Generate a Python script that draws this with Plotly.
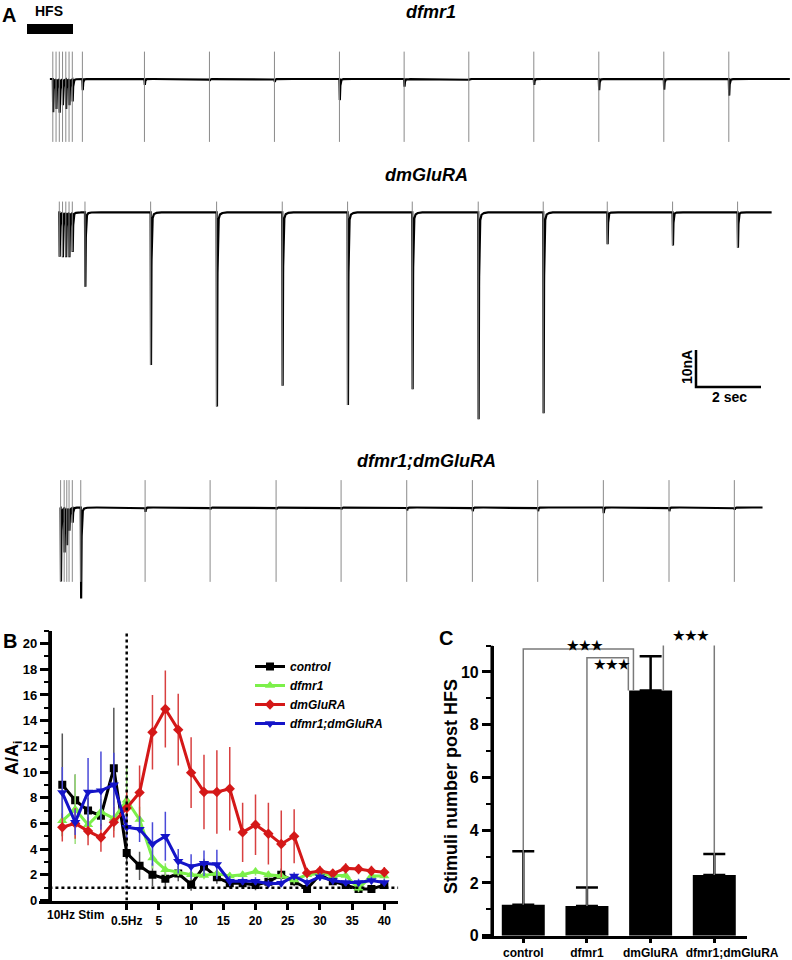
import numpy as np
import plotly.graph_objects as go

W, H = 792, 960
FONT = "Arial, 'Liberation Sans', sans-serif"

# ------------------------------------------------------------------ data
# Panel A : stimulus times (s, relative to last HFS pulse) and EJC amplitudes (nA)
dfmr1_hfs_t = [-0.6, -0.5, -0.4, -0.3, -0.2, -0.1, 0.0]
dfmr1_hfs_amp = [-9, -8, -9, -7, -8, -7, -6]
dfmr1_post_t = [0.31, 2.22, 4.22, 6.22, 8.22, 10.21, 12.2, 14.2, 16.2, 18.2, 20.2]
dfmr1_post_amp = [-3.0, -1.6, -0.5, -0.8, -5.7, -2.1, -0.3, -1.6, -3.0, -2.9, -4.5]
dfmr1_span = [-0.69, 22.08]
dfmr1_artifact = [7.4, -17.0]

dmglura_hfs_t = [-0.4, -0.3, -0.2, -0.1, 0.0]
dmglura_hfs_amp = [-12, -12, -12, -12, -10.6]
dmglura_post_t = [0.39, 2.41, 4.44, 6.46, 8.47, 10.46, 12.49, 14.49, 16.46, 18.47, 20.47]
dmglura_post_amp = [-20.1, -41.3, -52.5, -46.9, -52.1, -47.8, -55.9, -54.3, -8.6, -9.0, -9.6]
dmglura_span = [-0.43, 21.52]
dmglura_artifact_top = 2.9

double_hfs_t = [-0.36, -0.25, -0.17, -0.10, 0.0]
double_hfs_amp = [-20, -12, -10, -6, -4]
double_post_t = [0.26, 2.24, 4.24, 6.27, 8.27, 10.29, 12.31, 14.32, 16.34, 18.36, 20.37]
double_post_amp = [-24.6, -1.2, -0.5, -0.5, -0.5, -0.8, -1.0, -1.0, -1.5, -1.0, -0.6]
double_span = [-0.38, 21.24]
double_artifact = [7.4, -20.1]

scale_bar_t = 2.0    # sec
scale_bar_i = 10.0   # nA

# Panel B
b_x = [-10, -8, -6, -4, -2, 0, 2, 4, 6, 8, 10, 12, 14, 16, 18, 20, 22, 24, 26, 28, 30, 32, 34, 36, 38, 40]
b_tickvals = [0, 5, 10, 15, 20, 25, 30, 35, 40]
b_ticktext = ["0.5Hz", "5", "10", "15", "20", "25", "30", "35", "40"]
control_y = [9.0, 7.8, 7.0, 6.6, 10.3, 3.7, 2.7, 2.0, 1.7, 2.1, 1.25, 2.65, 1.8, 1.35, 1.35, 1.2, 1.45, 2.0, 1.5, 0.9, 2.0, 1.5, 1.2, 0.9, 0.9, 1.2]
control_err = [4.0, 2.0, 1.0, 0.8, 4.7, 1.0, 1.1, 0.9, 0.7, 0.6, 0.5, 0.6, 0.5, 0.4, 0.4, 0.4, 0.4, 0.5, 0.4, 0.3, 0.4, 0.3, 0.3, 0.3, 0.3, 0.3]
dfmr1_y = [6.2, 7.1, 5.9, 6.9, 6.4, 7.8, 6.3, 3.3, 2.4, 2.2, 2.0, 1.95, 2.1, 1.9, 2.0, 2.25, 2.0, 1.9, 1.6, 2.0, 2.1, 1.95, 1.95, 0.95, 1.9, 1.9]
dfmr1_err = [1.2, 2.7, 1.0, 1.0, 1.0, 2.7, 1.0, 0.8, 0.5, 0.3, 0.3, 0.3, 0.3, 0.3, 0.3, 0.3, 0.3, 0.3, 0.3, 0.3, 0.3, 0.3, 0.3, 0.3, 0.3, 0.3]
dmglura_y = [5.7, 6.0, 5.4, 4.9, 6.1, 7.2, 8.4, 13.1, 14.9, 13.3, 9.95, 8.45, 8.45, 8.7, 5.3, 5.9, 5.2, 4.4, 5.0, 2.15, 2.3, 2.1, 2.5, 2.45, 2.3, 2.2]
dmglura_err = [1.1, 1.2, 1.1, 1.1, 1.2, 1.3, 2.1, 2.9, 3.0, 2.8, 2.75, 2.9, 3.25, 3.25, 2.3, 2.35, 2.4, 2.6, 2.1, 0.4, 0.4, 0.3, 0.4, 0.4, 0.4, 0.4]
double_y = [8.4, 6.1, 8.45, 8.55, 9.0, 5.7, 5.55, 4.4, 5.0, 3.05, 2.65, 2.9, 2.8, 1.5, 1.5, 1.5, 1.3, 1.35, 1.9, 1.4, 1.85, 1.55, 1.4, 1.4, 1.55, 1.4]
double_err = [2.0, 1.0, 2.65, 3.05, 2.5, 1.0, 1.0, 1.7, 1.9, 0.95, 0.95, 1.0, 1.15, 0.4, 0.3, 0.3, 0.3, 0.3, 0.3, 0.3, 0.3, 0.3, 0.3, 0.3, 0.3, 0.3]
b_switch_x = 0       # 10Hz -> 0.5Hz
b_ref_y = 1          # A/Ai = 1

# Panel C
c_categories = ["control", "dfmr1", "dmGluRA", "dfmr1;dmGluRA"]
c_values = [1.17, 1.13, 9.3, 2.3]
c_err = [2.03, 0.70, 1.3, 0.8]
# significance brackets: (left cat, left offset, right cat, right offset, top)
c_brackets = [(0, 0.0, 2, -0.27, 10.87), (1, 0.0, 2, -0.35, 10.54), (2, 0.2, 3, 0.0, 11.2)]

# ------------------------------------------------------------------ helpers
def pxx(p):
    return p / W


def pxy(p):
    return 1 - p / H


T0_PX, PX_PER_S, PX_PER_NA = 72.3, 32.5, 3.7
A_XRANGE = [(0 - T0_PX) / PX_PER_S, (W - T0_PX) / PX_PER_S]


def band(top, bot, base):
    return dict(domain=[pxy(bot), pxy(top)],
                range=[(base - bot) / PX_PER_NA, (base - top) / PX_PER_NA])


def kernel(dt):
    k = np.zeros_like(dt)
    rise = (dt >= 0) & (dt < 0.012)
    k[rise] = dt[rise] / 0.012
    dec = dt >= 0.012
    d = dt[dec] - 0.012
    k[dec] = 0.96 * np.exp(-d / 0.013) + 0.04 * np.exp(-d / 0.07)
    return k


def build_trace(times, amps, span):
    t = np.arange(span[0], span[1], 0.002)
    y = np.zeros_like(t)
    for ts, a in zip(times, amps):
        y += a * kernel(t - ts)
    return t, y


def artifact_xy(times, tops, bots):
    xs, ys = [], []
    for ts, a, b in zip(times, tops, bots):
        xs += [ts, ts, None]
        ys += [a, b, None]
    return xs, ys


fig = go.Figure()

ARTC = "#8a8a8a"
# ---------------- Panel A traces
panelA = [
    ("y", dfmr1_hfs_t + dfmr1_post_t, dfmr1_hfs_amp + dfmr1_post_amp, dfmr1_span,
     [dfmr1_artifact[0]] * 18, [dfmr1_artifact[1]] * 18),
    ("y2", dmglura_hfs_t + dmglura_post_t, dmglura_hfs_amp + dmglura_post_amp, dmglura_span,
     [dmglura_artifact_top] * 16, dmglura_hfs_amp + dmglura_post_amp),
    ("y3", double_hfs_t + double_post_t, double_hfs_amp + double_post_amp, double_span,
     [double_artifact[0]] * 16, [double_artifact[1]] * 16),
]
for yref, ts, amps, span, tops, bots in panelA:
    tx, ty = build_trace(ts, amps, span)
    fig.add_trace(go.Scatter(x=tx, y=ty, xaxis="x", yaxis=yref, mode="lines",
                             line=dict(color="black", width=2.2), showlegend=False, hoverinfo="skip"))
    ax, ay = artifact_xy(ts, tops, bots)
    fig.add_trace(go.Scatter(x=ax, y=ay, xaxis="x", yaxis=yref, mode="lines",
                             line=dict(color=ARTC, width=1), showlegend=False, hoverinfo="skip"))

# ---------------- Panel B
series = [
    ("control", control_y, control_err, "black", "#555555", "square", 8),
    ("dfmr1", dfmr1_y, dfmr1_err, "#7cf04a", "#9be07a", "triangle-up", 9),
    ("dmGluRA", dmglura_y, dmglura_err, "#d41818", "#d84040", "diamond", 8),
    ("dfmr1;dmGluRA", double_y, double_err, "#1414c8", "#4a4ad8", "triangle-down", 9),
]
for name, ys, es, col, ecol, sym, ms in series:
    fig.add_trace(go.Scatter(
        x=b_x, y=ys, xaxis="x2", yaxis="y4", mode="lines+markers",
        name="<b><i>%s</i></b>" % name,
        line=dict(color=col, width=3),
        marker=dict(symbol=sym, size=ms, color=col),
        error_y=dict(type="data", array=es, visible=True, color=ecol, thickness=1.5, width=0),
    ))

# ---------------- Panel C
c_x = list(range(len(c_categories)))
c_label_pos = [c_x[0], c_x[1], c_x[2], c_x[3] + 0.28]
fig.add_trace(go.Bar(
    x=c_x, y=c_values, xaxis="x3", yaxis="y5", width=0.675,
    marker=dict(color="black", line=dict(width=0)), showlegend=False,
    error_y=dict(type="data", symmetric=False, array=c_err, arrayminus=[0] * len(c_err),
                 color="black", thickness=2.5, width=11),
))

B_XLEFT, B_XRIGHT, B_YAX = -13.57, 42.17, -12.0
B_YTOP, C_YTOP = 21, 11
C_YAX_PX = 491.7
C_XLEFT, C_XRIGHT = -0.653, 3.509
C_YAX = C_XLEFT + (C_YAX_PX - 481.7) / (746.7 - 481.7) * (C_XRIGHT - C_XLEFT)

shapes = []
# brackets
for lc, lo, rc, ro, top in c_brackets:
    x0, x1 = c_x[lc] + lo, c_x[rc] + ro
    shapes.append(dict(type="path", xref="x3", yref="y5",
                       path="M %f,%f L %f,%f L %f,%f L %f,%f" % (
                           x0, c_values[lc], x0, top, x1, top, x1, c_values[rc]),
                       line=dict(color="#7a7a7a", width=1.5), layer="above"))

# y-axis spines (explicit)
shapes.append(dict(type="line", xref="x2", yref="y4", x0=B_YAX, x1=B_YAX, y0=0, y1=B_YTOP,
                   line=dict(color="black", width=2.5)))
shapes.append(dict(type="line", xref="x3", yref="y5", x0=C_YAX, x1=C_YAX, y0=0, y1=C_YTOP,
                   line=dict(color="black", width=2.5)))

# dotted reference lines panel B
shapes.append(dict(type="line", xref="x2", yref="y4", x0=b_switch_x, x1=b_switch_x, y0=0, y1=B_YTOP,
                   line=dict(color="black", width=2.5, dash="dot")))
shapes.append(dict(type="line", xref="x2", yref="y4", x0=B_YAX, x1=B_XRIGHT, y0=b_ref_y, y1=b_ref_y,
                   line=dict(color="black", width=2.5, dash="dot")))

# HFS bar
shapes.append(dict(type="rect", xref="paper", yref="paper", x0=pxx(27), x1=pxx(73),
                   y0=pxy(34), y1=pxy(24), fillcolor="black", line=dict(width=0)))

# scale bar in trace-2 units
sb_t0 = (696 - T0_PX) / PX_PER_S
sb_i0 = (212.3 - 387) / PX_PER_NA
shapes.append(dict(type="path", xref="x", yref="y2",
                   path="M %f,%f L %f,%f L %f,%f" % (sb_t0, sb_i0 + scale_bar_i, sb_t0, sb_i0,
                                                     sb_t0 + scale_bar_t, sb_i0),
                   line=dict(color="black", width=2.5)))

annotations = []


def ann(text, x, y, size, italic=False, angle=0, color="black"):
    annotations.append(dict(text=text, x=pxx(x), y=pxy(y), xref="paper", yref="paper",
                            showarrow=False, xanchor="center", yanchor="middle", textangle=angle,
                            font=dict(family=FONT, size=size, color=color, weight="bold",
                                      style="italic" if italic else "normal")))


ann("A", 9, 15, 20)
ann("HFS", 49, 11, 14)
ann("dfmr1", 431, 12, 18, italic=True)
ann("dmGluRA", 426, 175, 18, italic=True)
ann("dfmr1;dmGluRA", 426, 461, 18, italic=True)
ann("10nA", 687, 367, 14, angle=-90)
ann("2 sec", 729, 397, 14)
ann("B", 10, 641, 20)
ann("C", 446, 638, 20)
ann("A/A<sub>i</sub>", 13, 758, 18, angle=-90)
ann("10Hz Stim", 75, 915, 12)
ann("Stimuli number post HFS", 451, 787, 18, angle=-90)
# stars
for (px_, py_) in [(585, 645), (612, 664), (691, 635)]:
    ann("★★★", px_, py_, 13)

axis_common = dict(showgrid=False, zeroline=False, showline=True, linecolor="black",
                   ticks="outside", automargin=False, tickangle=0)

fig.update_layout(
    width=W, height=H, margin=dict(l=0, r=0, t=0, b=0, autoexpand=False),
    paper_bgcolor="white", plot_bgcolor="white",
    font=dict(family=FONT, color="black"),
    xaxis=dict(domain=[0, 1], range=A_XRANGE, visible=False, anchor="y", automargin=False),
    yaxis=dict(**band(40, 150, 79), visible=False, anchor="x", automargin=False),
    yaxis2=dict(**band(190, 435, 212.3), visible=False, anchor="x", automargin=False),
    yaxis3=dict(**band(470, 615, 507.5), visible=False, anchor="x", automargin=False),
    xaxis2=dict(domain=[pxx(39.3), pxx(398.3)], range=[B_XLEFT, B_XRIGHT], anchor="y4",
                tickvals=b_tickvals, ticktext=b_ticktext, ticklen=7, tickwidth=2.5, linewidth=2.5,
                tickcolor="black", tickfont=dict(size=12, weight="bold"), **axis_common),
    yaxis4=dict(domain=[pxy(900.5), pxy(630.7)], range=[0, B_YTOP], anchor="free", position=pxx(49.5),
                tick0=0, dtick=2, ticklen=9, tickwidth=2.5, linewidth=2.5, tickcolor="black",
                minor=dict(dtick=1, ticks="outside", ticklen=5, tickwidth=2, tickcolor="black"),
                tickfont=dict(size=13, weight="bold"), **axis_common),
    xaxis3=dict(domain=[pxx(481.7), pxx(746.7)], range=[C_XLEFT, C_XRIGHT], anchor="y5",
                tickvals=c_label_pos, ticktext=c_categories, ticklen=4, tickwidth=2.5, linewidth=2.5,
                tickcolor="rgba(0,0,0,0)",
                minor=dict(tickvals=c_x, ticks="outside", ticklen=5, tickwidth=2.5, tickcolor="black"),
                tickfont=dict(size=12, weight="bold"), **axis_common),
    yaxis5=dict(domain=[pxy(935.7), pxy(645.6)], range=[0, C_YTOP], anchor="free", position=pxx(C_YAX_PX),
                tick0=0, dtick=2, ticklen=9, tickwidth=2.5, linewidth=2.5, tickcolor="black",
                minor=dict(dtick=1, ticks="outside", ticklen=5, tickwidth=2, tickcolor="black"),
                tickfont=dict(size=16, weight="bold"), **axis_common),
    legend=dict(x=pxx(250), y=pxy(652), xanchor="left", yanchor="top", bgcolor="rgba(0,0,0,0)",
                font=dict(size=12, weight="bold", style="italic"), itemwidth=30,
                tracegroupgap=0),
    shapes=shapes, annotations=annotations,
)

fig.write_html("out.html", config={"displayModeBar": False},
               post_script="document.body.style.margin='0';")
